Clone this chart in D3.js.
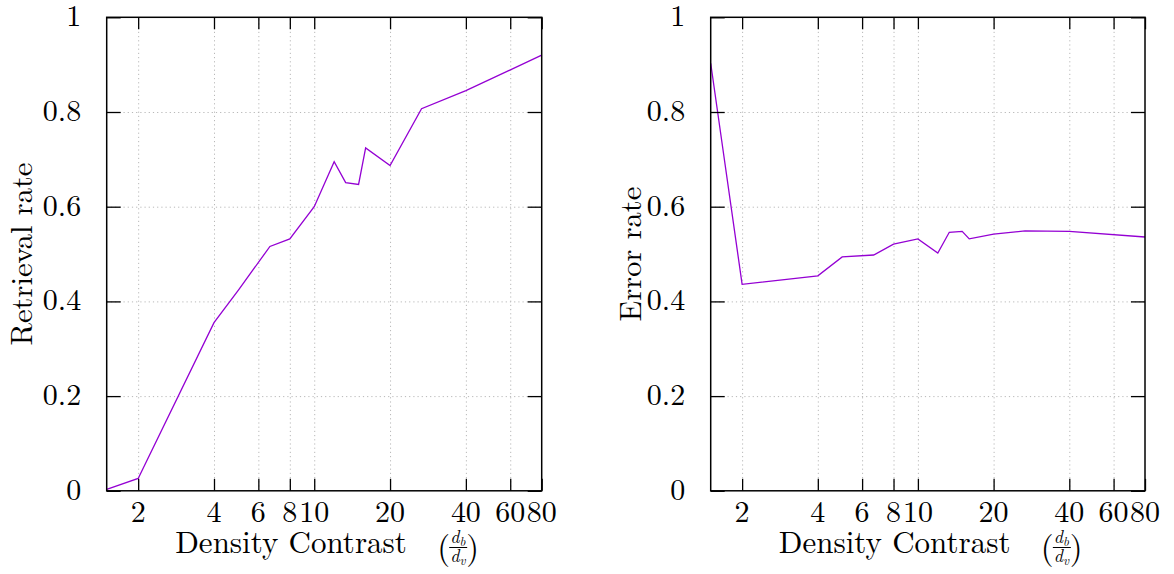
<!DOCTYPE html>
<html>
<head>
<meta charset="utf-8">
<script src="https://cdn.jsdelivr.net/npm/d3@7"></script>
<style>
  body { margin: 0; background: #fff; }
  svg text { font-family: 'Latin Modern Roman', 'Liberation Serif', serif; fill: #000; }
</style>
</head>
<body>
<div id="chart"></div>
<script>
// data
const densityContrast = [1.5, 2, 4, 5, 6.67, 8, 10, 12, 13.33, 15, 16, 20, 26.67, 40, 80];
const retrievalRate = [0.003, 0.026, 0.355, 0.424, 0.516, 0.532, 0.600, 0.695, 0.651, 0.647, 0.724, 0.687, 0.807, 0.845, 0.920];
const errorRate = [0.903, 0.436, 0.454, 0.494, 0.498, 0.521, 0.532, 0.502, 0.546, 0.548, 0.532, 0.542, 0.549, 0.548, 0.536];
const xTickValues = [2, 4, 6, 8, 10, 20, 40, 60, 80];
const yTickValues = [0, 0.2, 0.4, 0.6, 0.8, 1];
const yLabels = ['Retrieval rate', 'Error rate'];

const W = 1174, H = 574;
const plotTop = 17.3, plotBottom = 490.8;

const svg = d3
  .select('#chart')
  .append('svg')
  .attr('width', W)
  .attr('height', H)
  .attr('viewBox', [0, 0, W, H].join(' '));

const panels = [
  { left: 106.7, right: 541.7, values: retrievalRate, label: yLabels[0], labelX: 32.3 },
  { left: 710.7, right: 1145, values: errorRate, label: yLabels[1], labelX: 640.5 },
];

panels.forEach((p) => {
  const x = d3.scaleLog().domain([1.5, 80]).range([p.left, p.right]);
  const y = d3.scaleLinear().domain([0, 1]).range([plotBottom, plotTop]);
  const g = svg.append('g');

  // dotted grid
  g.append('g')
    .attr('class', 'grid')
    .attr('transform', `translate(0, ${plotBottom})`)
    .call(d3.axisBottom(x).tickValues(xTickValues.slice(0, -1)).tickSize(-(plotBottom - plotTop)).tickFormat(''));
  g.append('g')
    .attr('class', 'grid')
    .attr('transform', `translate(${p.left}, 0)`)
    .call(d3.axisLeft(y).tickValues(yTickValues.slice(1, -1)).tickSize(-(p.right - p.left)).tickFormat(''));
  g.selectAll('.grid .domain').remove();
  g.selectAll('.grid line')
    .attr('stroke', '#b8b8b8')
    .attr('stroke-width', 1)
    .attr('stroke-dasharray', '1.2,3');

  // data line
  const line = d3
    .line()
    .x((d, i) => x(densityContrast[i]))
    .y((d) => y(d));
  g.append('path')
    .datum(p.values)
    .attr('fill', 'none')
    .attr('stroke', '#9400d3')
    .attr('stroke-width', 1.3)
    .attr('d', line);

  // ticks on all four sides, pointing inwards
  const tickAxes = [
    [d3.axisBottom(x).tickValues(xTickValues).tickSize(-12), `translate(0, ${plotBottom})`],
    [d3.axisTop(x).tickValues(xTickValues).tickSize(-12), `translate(0, ${plotTop})`],
    [d3.axisLeft(y).tickValues(yTickValues).tickSize(-14), `translate(${p.left}, 0)`],
    [d3.axisRight(y).tickValues(yTickValues).tickSize(-14), `translate(${p.right}, 0)`],
  ];
  tickAxes.forEach(([ax, tr]) => {
    const a = g.append('g').attr('transform', tr).call(ax.tickFormat(''));
    a.select('.domain').remove();
    a.selectAll('line').attr('stroke', '#000').attr('stroke-width', 1.3);
  });

  // border
  g.append('rect')
    .attr('x', p.left)
    .attr('y', plotTop)
    .attr('width', p.right - p.left)
    .attr('height', plotBottom - plotTop)
    .attr('fill', 'none')
    .attr('stroke', '#000')
    .attr('stroke-width', 1.5);

  // tick labels
  g.selectAll('.xlab')
    .data(xTickValues)
    .enter()
    .append('text')
    .attr('x', (d) => x(d))
    .attr('y', 521.7)
    .attr('text-anchor', 'middle')
    .style('font-size', '30px')
    .text((d) => d);
  g.selectAll('.ylab')
    .data(yTickValues)
    .enter()
    .append('text')
    .attr('x', p.left - 25.5)
    .attr('y', (d) => y(d) + 8.8)
    .attr('text-anchor', 'end')
    .style('font-size', '30px')
    .text((d) => d);

  // y axis title
  g.append('text')
    .attr('transform', `translate(${p.labelX}, ${(plotTop + plotBottom) / 2}) rotate(-90)`)
    .attr('text-anchor', 'middle')
    .style('font-size', '30.5px')
    .text(p.label);

  // x axis title with fraction
  const s = (p.left + p.right) / 2 - 149;
  g.append('text')
    .attr('x', s)
    .attr('y', 553.3)
    .style('font-size', '31px')
    .text('Density Contrast');
  g.append('text').attr('x', s + 262).attr('y', 559).style('font-size', '33px').text('(');
  g.append('text').attr('x', s + 291).attr('y', 559).style('font-size', '33px').text(')');
  const num = g.append('text').attr('x', s + 275).attr('y', 543).style('font-size', '18px').style('font-style', 'italic');
  num.append('tspan').text('d');
  num.append('tspan').attr('dy', 3).style('font-size', '13px').text('b');
  const den = g.append('text').attr('x', s + 275).attr('y', 562).style('font-size', '18px').style('font-style', 'italic');
  den.append('tspan').text('d');
  den.append('tspan').attr('dy', 3).style('font-size', '13px').text('v');
  g.append('line')
    .attr('x1', s + 274)
    .attr('x2', s + 292)
    .attr('y1', 547.5)
    .attr('y2', 547.5)
    .attr('stroke', '#000')
    .attr('stroke-width', 1);
});
</script>
</body>
</html>
